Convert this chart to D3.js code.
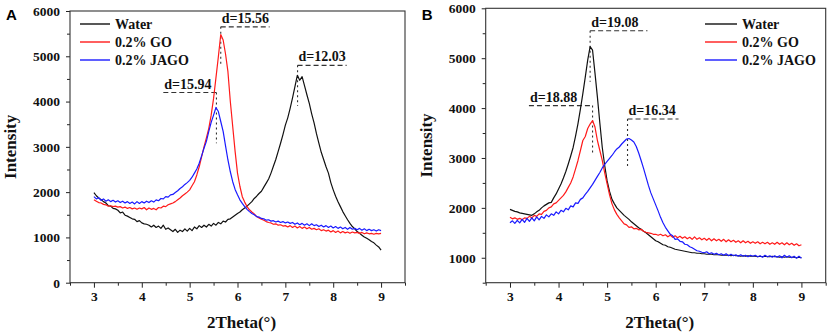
<!DOCTYPE html>
<html>
<head>
<meta charset="utf-8">
<script src="https://cdn.jsdelivr.net/npm/d3@7"></script>
<style>
html,body{margin:0;padding:0;background:#fff;}
svg{display:block;}
</style>
</head>
<body>
<svg id="chart" width="829" height="336"></svg>
<script>
// ---------------- DATA ----------------
// sample positions (2Theta, degrees) 3.00 .. 9.00 every 0.05
const xGrid = d3.range(0, 121).map(i => +(3 + i * 0.05).toFixed(2));
const xTicks = [3, 4, 5, 6, 7, 8, 9];
const yTicksA = [0, 1000, 2000, 3000, 4000, 5000, 6000];
const yTicksB = [1000, 2000, 3000, 4000, 5000, 6000];
const seriesNames = ["Water", "0.2% GO", "0.2% JAGO"];

const waterA = [
1990,1920,1870,1830,1790,1760,1700,1690,1640,1630,
1600,1540,1560,1490,1470,1440,1410,1400,1350,1370,
1320,1300,1290,1270,1230,1270,1220,1250,1200,1270,
1180,1210,1170,1130,1180,1110,1160,1130,1190,1140,
1200,1150,1230,1190,1260,1220,1270,1230,1290,1250,
1310,1270,1330,1300,1360,1340,1400,1410,1450,1490,
1530,1560,1610,1650,1690,1740,1790,1860,1910,1970,
2020,2110,2200,2290,2420,2570,2720,2900,3080,3270,
3480,3640,3850,4080,4330,4580,4470,4550,4350,4150,
3960,3730,3530,3290,3080,2880,2720,2560,2420,2210,
2050,1910,1790,1680,1570,1480,1390,1310,1240,1190,
1130,1090,1050,1010,980,950,910,880,830,790,
720];
const goA = [
1830,1800,1770,1760,1730,1720,1690,1700,1680,1690,
1670,1680,1650,1670,1640,1660,1630,1650,1620,1650,
1630,1660,1610,1650,1620,1640,1610,1660,1650,1690,
1680,1720,1740,1760,1790,1830,1870,1920,1960,2000,
2050,2140,2230,2380,2560,2780,3000,3200,3410,3700,
4070,4530,4990,5480,5360,5050,4660,4000,3450,2900,
2420,2130,1900,1780,1680,1610,1560,1520,1460,1430,
1400,1380,1350,1330,1320,1290,1300,1270,1280,1250,
1260,1230,1260,1220,1250,1210,1240,1200,1230,1190,
1220,1180,1200,1170,1190,1150,1170,1140,1160,1120,
1150,1110,1140,1100,1130,1100,1120,1090,1120,1100,
1110,1090,1110,1080,1100,1080,1090,1070,1090,1080,
1090];
const jagoA = [
1900,1850,1880,1820,1850,1800,1830,1790,1820,1780,
1810,1770,1800,1760,1790,1750,1780,1740,1790,1750,
1790,1760,1800,1770,1810,1780,1830,1810,1860,1850,
1900,1890,1940,1950,1990,2030,2080,2120,2170,2210,
2260,2330,2420,2510,2640,2800,2970,3120,3340,3540,
3700,3870,3780,3560,3340,3020,2710,2450,2230,2060,
1940,1830,1750,1680,1620,1570,1530,1500,1460,1450,
1420,1410,1380,1390,1360,1370,1340,1360,1330,1350,
1320,1340,1310,1330,1290,1320,1280,1310,1270,1300,
1260,1300,1260,1280,1240,1270,1230,1260,1220,1250,
1210,1240,1200,1230,1190,1220,1180,1220,1180,1200,
1170,1200,1160,1190,1150,1180,1150,1170,1140,1170,
1150];

const waterB = [
1970,1950,1930,1920,1900,1890,1880,1870,1860,1850,
1880,1920,1950,2000,2040,2070,2100,2110,2200,2280,
2380,2480,2600,2730,2880,3040,3210,3440,3690,3980,
4290,4620,4960,5230,5160,4700,4220,3700,3210,2850,
2540,2330,2170,2080,2000,1950,1900,1850,1810,1770,
1720,1680,1640,1600,1570,1530,1500,1460,1420,1380,
1340,1320,1290,1260,1250,1220,1210,1190,1170,1160,
1150,1140,1130,1120,1110,1100,1100,1090,1090,1080,
1080,1070,1070,1070,1060,1060,1060,1050,1050,1050,
1050,1040,1050,1040,1040,1030,1040,1030,1040,1030,
1030,1030,1020,1030,1020,1030,1020,1020,1030,1020,
1020,1010,1020,1010,1020,1010,1010,1010,1000,1010,
1000];
const goB = [
1810,1780,1800,1770,1790,1760,1800,1790,1830,1800,
1850,1830,1880,1870,1930,1950,2000,2020,2080,2100,
2150,2200,2250,2320,2410,2500,2620,2780,2950,3150,
3350,3430,3590,3680,3750,3620,3350,3150,2950,2700,
2480,2260,2080,1960,1870,1800,1740,1680,1660,1610,
1620,1580,1590,1560,1570,1530,1510,1500,1490,1470,
1470,1450,1470,1440,1460,1420,1450,1410,1440,1400,
1430,1390,1420,1380,1410,1370,1420,1370,1400,1360,
1390,1350,1390,1340,1380,1340,1370,1330,1370,1320,
1360,1320,1350,1310,1340,1300,1340,1300,1330,1290,
1320,1290,1320,1280,1310,1280,1310,1270,1300,1270,
1310,1270,1300,1260,1300,1260,1290,1250,1280,1240,
1260];
const jagoB = [
1700,1740,1690,1750,1700,1770,1710,1790,1730,1800,
1740,1820,1760,1830,1790,1860,1820,1880,1850,1920,
1880,1950,1920,1990,1960,2040,2020,2100,2090,2170,
2200,2270,2330,2400,2470,2550,2630,2710,2800,2870,
2930,2990,3050,3120,3180,3220,3280,3330,3380,3390,
3360,3320,3230,3100,2950,2790,2620,2450,2300,2180,
2060,1940,1810,1700,1610,1540,1470,1440,1370,1380,
1330,1320,1270,1260,1220,1200,1170,1140,1130,1110,
1100,1120,1080,1100,1070,1090,1060,1080,1050,1080,
1040,1070,1040,1060,1030,1060,1030,1050,1020,1050,
1030,1050,1020,1040,1010,1050,1020,1040,1010,1040,
1010,1040,1000,1050,1010,1040,1000,1030,990,1030,
990];

// peak annotations: label, peak x, dashed-line level, dashed-line end x, dotted drop end level
const annLabelsA = ["d=15.56", "d=15.94", "d=12.03"];
const annXA      = [5.65, 5.56, 7.255];
const annLevelA  = [5650, 4200, 4800];
const annX2A     = [6.67, 4.45, 8.28];
const annDropA   = [4800, 3080, 3900];

const annLabelsB = ["d=19.08", "d=18.88", "d=16.34"];
const annXB      = [4.65, 4.70, 5.42];
const annLevelB  = [5550, 4050, 3780];
const annX2B     = [5.83, 3.39, 6.47];
const annDropB   = [4530, 3100, 2800];

// ---------------- DRAW ----------------
const colors = ["#111111", "#ff1a1a", "#1a1aff"];
const serif = "'Liberation Serif','Times New Roman',serif";
const svg = d3.select("#chart");

function panel(o) {
  const g = svg.append("g");
  const x = d3.scaleLinear().domain([2.5, 9.5]).range([o.l, o.r]);
  const y = d3.scaleLinear().domain(o.yDom).range([o.b, o.t]);

  // minor ticks
  const xMinor = d3.range(2.5, 9.51, 0.5).filter(v => !xTicks.includes(v));
  const yMinor = d3.range(o.yDom[0], o.yDom[1] + 1, 500).filter(v => v % 1000 !== 0);

  const gx = g.append("g").attr("transform", `translate(0,${o.b})`)
    .call(d3.axisBottom(x).tickValues(xTicks).tickSize(5).tickSizeOuter(0).tickPadding(4).tickFormat(d3.format("d")));
  g.append("g").attr("transform", `translate(0,${o.b})`)
    .call(d3.axisBottom(x).tickValues(xMinor).tickSize(3).tickSizeOuter(0).tickFormat(""));
  const gy = g.append("g").attr("transform", `translate(${o.l},0)`)
    .call(d3.axisLeft(y).tickValues(o.yTicks).tickSize(4).tickSizeOuter(0).tickPadding(6).tickFormat(d3.format("d")));
  g.append("g").attr("transform", `translate(${o.l},0)`)
    .call(d3.axisLeft(y).tickValues(yMinor).tickSize(3).tickSizeOuter(0).tickFormat(""));

  g.selectAll(".domain").remove();
  g.selectAll(".tick line").attr("stroke", "#222").attr("stroke-width", 1);
  g.selectAll(".tick text").attr("font-family", serif).attr("font-weight", "bold")
    .attr("font-size", "13.5px").attr("fill", "#111");

  // frame
  g.append("rect").attr("x", o.l).attr("y", o.t).attr("width", o.r - o.l).attr("height", o.b - o.t)
    .attr("fill", "none").attr("stroke", "#333").attr("stroke-width", 1.1);

  // clip
  const clipId = "clip" + o.name;
  svg.append("defs").append("clipPath").attr("id", clipId)
    .append("rect").attr("x", o.l).attr("y", o.t).attr("width", o.r - o.l).attr("height", o.b - o.t);

  // annotations
  const ga = g.append("g");
  o.ann.labels.forEach((lab, i) => {
    const px = x(o.ann.x[i]), py = y(o.ann.level[i]);
    const px2 = x(o.ann.x2[i]);
    ga.append("line").attr("x1", Math.min(px, px2)).attr("x2", Math.max(px, px2))
      .attr("y1", py).attr("y2", py).attr("stroke", "#333").attr("stroke-width", 1.1)
      .attr("stroke-dasharray", "5,3");
    ga.append("line").attr("x1", px).attr("x2", px).attr("y1", py).attr("y2", y(o.ann.drop[i]))
      .attr("stroke", "#333").attr("stroke-width", 1.1).attr("stroke-dasharray", "2,3");
    ga.append("text").attr("x", Math.min(px, px2) + 1).attr("y", py - 4)
      .attr("font-family", serif).attr("font-weight", "bold").attr("font-size", "14px")
      .attr("fill", "#111").text(lab);
  });

  // curves
  const line = d3.line().x((d, i) => x(xGrid[i])).y(d => y(d));
  o.series.forEach((s, k) => {
    g.append("path").datum(s).attr("clip-path", `url(#${clipId})`)
      .attr("d", line).attr("fill", "none").attr("stroke", colors[k])
      .attr("stroke-width", 1.2).attr("stroke-linejoin", "round");
  });

  // legend
  seriesNames.forEach((n, k) => {
    const ly = o.legY + k * 18;
    g.append("line").attr("x1", o.legX).attr("x2", o.legX + o.legLen).attr("y1", ly).attr("y2", ly)
      .attr("stroke", colors[k]).attr("stroke-width", 1.4);
    g.append("text").attr("x", o.legX + o.legLen + 5).attr("y", ly).attr("dy", "0.35em")
      .attr("font-family", serif).attr("font-weight", "bold").attr("font-size", "14px")
      .attr("fill", "#111").text(n);
  });

  // axis titles
  g.append("text").attr("x", (o.l + o.r) / 2 + 4).attr("y", 328).attr("text-anchor", "middle")
    .attr("font-family", serif).attr("font-weight", "bold").attr("font-size", "17px")
    .attr("fill", "#111").text("2Theta(°)");
  g.append("text").attr("transform", `translate(${o.l - 54},${(o.t + o.b) / 2}) rotate(-90)`)
    .attr("text-anchor", "middle")
    .attr("font-family", serif).attr("font-weight", "bold").attr("font-size", "17px")
    .attr("fill", "#111").text("Intensity");

  // panel letter
  g.append("text").attr("x", o.l - 64).attr("y", 20)
    .attr("font-family", "'Liberation Sans',Arial,sans-serif").attr("font-weight", "bold")
    .attr("font-size", "15px").attr("fill", "#000").text(o.name);
}

panel({
  name: "A", l: 70, r: 405, t: 11, b: 282.7, yDom: [0, 6000], yTicks: yTicksA,
  series: [waterA, goA, jagoA],
  ann: {labels: annLabelsA, x: annXA, level: annLevelA, x2: annX2A, drop: annDropA},
  legX: 80, legY: 24, legLen: 30
});
panel({
  name: "B", l: 485.7, r: 825.7, t: 8.3, b: 282.7, yDom: [500, 6000], yTicks: yTicksB,
  series: [waterB, goB, jagoB],
  ann: {labels: annLabelsB, x: annXB, level: annLevelB, x2: annX2B, drop: annDropB},
  legX: 705, legY: 24, legLen: 32
});
</script>
</body>
</html>
